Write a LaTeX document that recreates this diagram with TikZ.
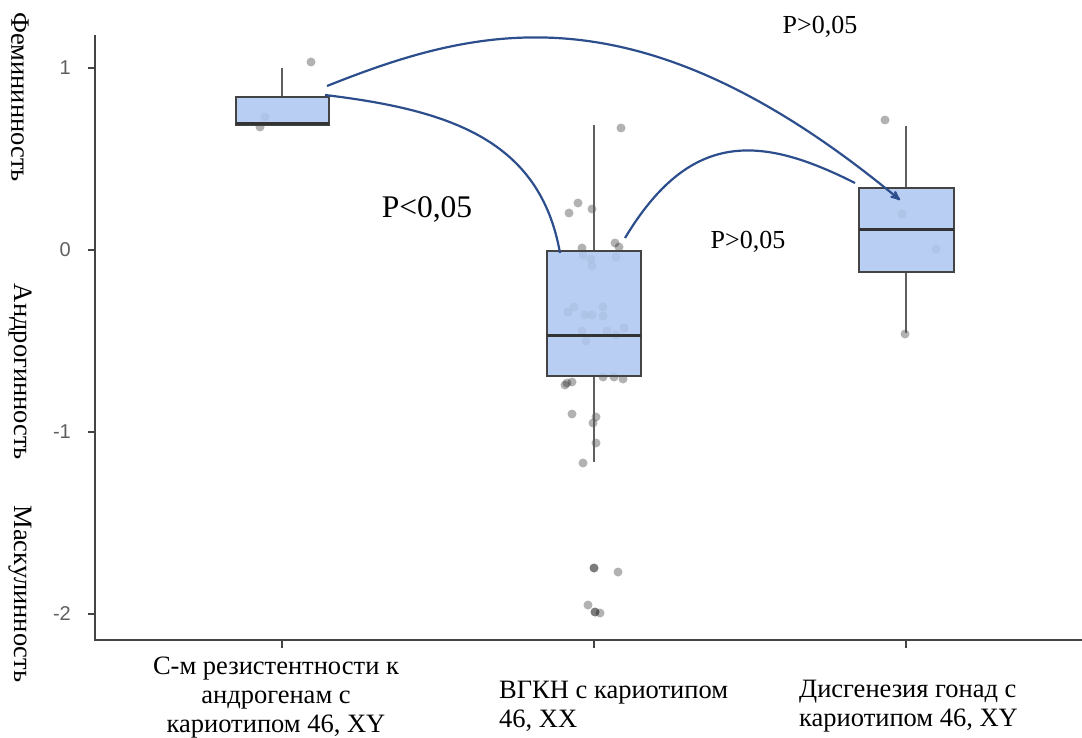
\documentclass[tikz,border=0pt]{standalone}
\usepackage{fontspec}
\setmainfont{Liberation Serif}
\setsansfont{Liberation Sans}
\usepackage{tikz}
\usetikzlibrary{arrows}
\usetikzlibrary{calc}
\usetikzlibrary{positioning}

\definecolor{boxfill}{RGB}{174,199,240}
\definecolor{curveblue}{RGB}{44,78,140}
\definecolor{axisgray}{RGB}{68,68,68}
\definecolor{tickgray}{RGB}{95,95,95}

\tikzset{
  boxq/.style={draw=axisgray,line width=1.8pt,fill=boxfill,fill opacity=0.88,draw opacity=1,
    rectangle,inner sep=0pt,outer sep=0pt},
  medline/.style={line width=3pt,draw=black!80},
  whisk/.style={line width=1.9pt,draw=tickgray},
  jit/.style={fill=black,opacity=0.3},
  axisline/.style={line width=1.4pt,draw=axisgray},
  pcurve/.style={draw=curveblue,line width=2.2pt},
  catlab/.style={font=\fontsize{26.5}{29}\selectfont,inner sep=0pt},
  ylab/.style={font=\fontsize{26.5}{29}\selectfont,inner sep=0pt,rotate=-90},
  tlab/.style={font=\sffamily\fontsize{20}{21}\selectfont,text=tickgray,inner sep=0pt},
  plab/.style={font=\fontsize{26}{29}\selectfont,inner sep=0pt}
}

\begin{document}
\begin{tikzpicture}[x=1pt,y=-1pt]
  \useasboundingbox (0,0) rectangle (1082,738);

  % jittered points
  \foreach \px/\py in {311/62,265/117,260/127,
      621/128,578/203,569/213,592/209,615/243,619/247,582/248,583/255,591/259,592/266,616/257,
      568/312,574/307,585/315,592/315,603/307,603/316,582/331,586/341,607/331,616/335,624/328,
      567/383,572/382,565/385,603/377,614/377,623/379,572/414,596/417,593/423,596/443,583/463,
      594/568,594/568,618/572,588/605,595/612,595/612,600/613,
      885/120,902/214,936/249,905/334}
    \fill[jit] (\px,\py) circle [radius=4.5pt];

  % whiskers
  \draw[whisk] (282,68) -- (282,97);
  \draw[whisk] (594,125) -- (594,251);
  \draw[whisk] (594,376) -- (594,462);
  \draw[whisk] (906,126) -- (906,188);
  \draw[whisk] (906,272) -- (906,333);

  % boxes
  \node[boxq,minimum width=93pt,minimum height=28pt] (grp1) at (282.5,111) {};
  \node[boxq,minimum width=94pt,minimum height=125pt] (grp2) at (594,313.5) {};
  \node[boxq,minimum width=95pt,minimum height=84pt] (grp3) at (906.5,230) {};

  \draw[medline] ([yshift=1.5pt]grp1.south west) -- ([yshift=1.5pt]grp1.south east);
  \draw[medline] ([yshift=-21.5pt]grp2.west) -- ([yshift=-21.5pt]grp2.east);
  \draw[medline] (grp3.west) -- (grp3.east);

  % axes
  \draw[axisline] (95,35) -- (95,640) -- (1082,640);
  \foreach \v/\yy in {1/68,0/250,-1/432,-2/614} {
    \draw[axisline] (88,\yy) -- (95,\yy);
    \node[tlab,anchor=east] (ytick\v) at (71,\yy) {\v};
  }
  \foreach \xx in {282,594,906}
    \draw[axisline] (\xx,640) -- (\xx,648);

  % axis texts
  \node[ylab] (fem) at (20,97) {Фемининность};
  \node[ylab] (andr) at (20,372) {Андрогинность};
  \node[ylab] (masc) at (20,594) {Маскулинность};

  \node[catlab,align=center] (cat1) at (276,698) {С-м резистентности к\\андрогенам с\\кариотипом 46, XY};
  \node[catlab,align=left,anchor=west] (cat2) at (499,706) {ВГКН с кариотипом\\46, XX};
  \node[catlab,align=left,anchor=west] (cat3) at (799,706) {Дисгенезия гонад с\\кариотипом 46, XY};

  % comparisons
  \path[pcurve,->,>=stealth']
    ([xshift=-2pt,yshift=11pt]grp1.north east) .. controls +(153,-61) and +(-260,-215) ..
    ([xshift=41pt,yshift=-12pt]grp3.north west);
  \path[pcurve]
    ([xshift=-4pt,yshift=2pt]grp1.north east) .. controls +(125,15) and +(-20,-113) ..
    ([xshift=13pt,yshift=-2pt]grp2.north west);
  \path[pcurve]
    ([xshift=-16pt,yshift=13pt]grp2.north east) .. controls +(65,-108) and +(-95,-48) ..
    ([xshift=-4pt,yshift=5pt]grp3.north west);

  \node[plab] (p13) at (820,27) {P>0,05};
  \node[plab,font=\fontsize{31.5}{33}\selectfont] (p12) at (427,209) {P<0,05};
  \node[plab] (p23) at (748,242) {P>0,05};
\end{tikzpicture}
\end{document}
